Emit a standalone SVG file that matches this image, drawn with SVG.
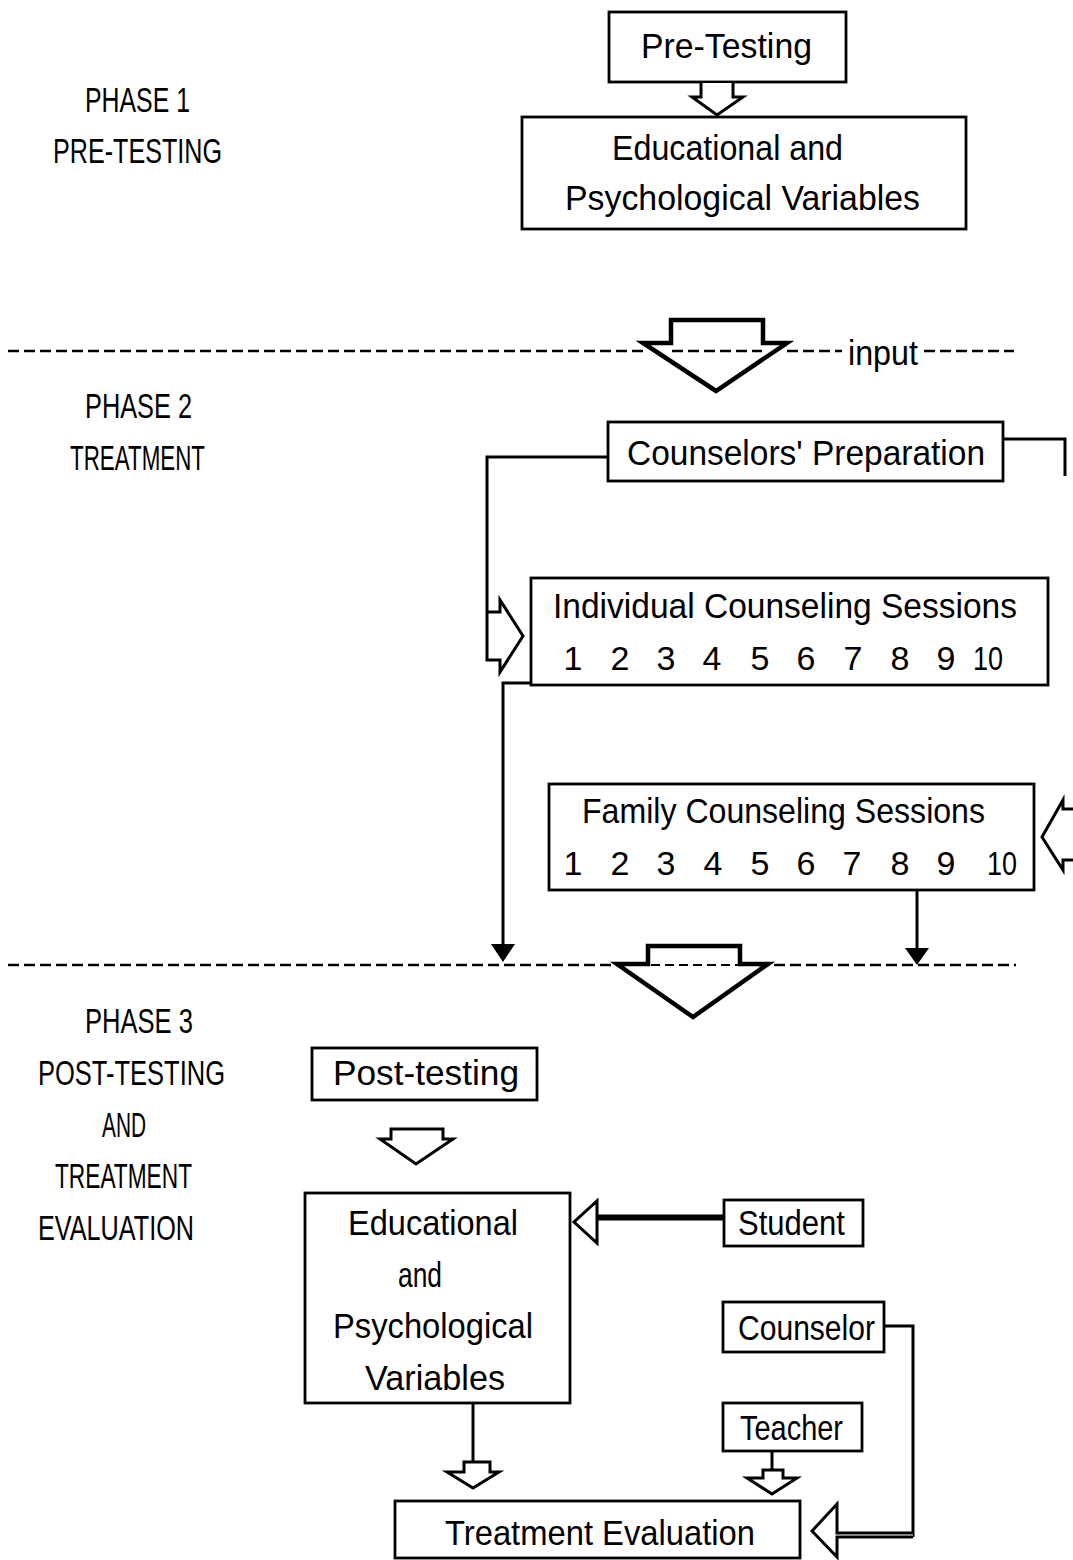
<svg xmlns="http://www.w3.org/2000/svg" width="1073" height="1560" viewBox="0 0 1073 1560">
<style>
  text { font-family: "Liberation Sans", Arial, sans-serif; font-size: 35px; fill: #000; }
  .box { fill: #fff; stroke: #000; stroke-width: 2.8; }
  .ln { fill: none; stroke: #000; stroke-width: 3; stroke-linejoin: miter; }
  .big { fill: none; stroke: #000; stroke-width: 4.5; stroke-linejoin: miter; }
  .hollow { fill: #fff; stroke: #000; stroke-width: 3; stroke-linejoin: miter; }
  .dash { fill: none; stroke: #000; stroke-width: 2.6; stroke-dasharray: 11 5; }
  .dashthin { fill: none; stroke: #000; stroke-width: 1.8; stroke-dasharray: 9 5; }
  .solid { fill: #000; stroke: none; }
  .num { text-anchor: middle; font-size: 34px; }
</style>

<g id="phase-labels">
  <text x="85" y="112" textLength="105" lengthAdjust="spacingAndGlyphs">PHASE 1</text>
  <text x="53" y="163" textLength="169" lengthAdjust="spacingAndGlyphs">PRE-TESTING</text>
  <text x="85" y="418" textLength="107" lengthAdjust="spacingAndGlyphs">PHASE 2</text>
  <text x="70" y="470" textLength="135" lengthAdjust="spacingAndGlyphs">TREATMENT</text>
  <text x="85" y="1033" textLength="108" lengthAdjust="spacingAndGlyphs">PHASE 3</text>
  <text x="38" y="1085" textLength="187" lengthAdjust="spacingAndGlyphs">POST-TESTING</text>
  <text x="102" y="1137" textLength="44" lengthAdjust="spacingAndGlyphs">AND</text>
  <text x="55" y="1188" textLength="137" lengthAdjust="spacingAndGlyphs">TREATMENT</text>
  <text x="38" y="1240" textLength="156" lengthAdjust="spacingAndGlyphs">EVALUATION</text>
</g>

<g id="phase-dividers">
  <line class="dash" x1="8" y1="351" x2="645" y2="351"/>
  <line class="dash" x1="672" y1="351" x2="762" y2="351"/>
  <line class="dash" x1="787" y1="351" x2="842" y2="351"/>
  <text x="848" y="365" textLength="70" lengthAdjust="spacingAndGlyphs">input</text>
  <line class="dash" x1="924" y1="351" x2="1014" y2="351"/>
  <line class="dash" x1="8" y1="965" x2="618" y2="965"/>
  <line class="dashthin" x1="651" y1="965" x2="738" y2="965"/>
  <line class="dash" x1="758" y1="965" x2="1016" y2="965"/>
</g>

<g id="pre-testing">
  <rect class="box" x="609" y="12" width="237" height="70"/>
  <text x="641" y="58" textLength="171" lengthAdjust="spacingAndGlyphs">Pre-Testing</text>
</g>

<g id="edu-psych-1">
  <rect class="box" x="522" y="117" width="444" height="112"/>
  <text x="612" y="160" textLength="231" lengthAdjust="spacingAndGlyphs">Educational and</text>
  <text x="565" y="210" textLength="355" lengthAdjust="spacingAndGlyphs">Psychological Variables</text>
</g>

<g id="counselors-preparation">
  <rect class="box" x="608" y="422" width="395" height="59"/>
  <text x="627" y="465" textLength="358" lengthAdjust="spacingAndGlyphs">Counselors' Preparation</text>
</g>

<g id="individual-sessions">
  <rect class="box" x="531" y="578" width="517" height="107"/>
  <text x="553" y="618" textLength="464" lengthAdjust="spacingAndGlyphs">Individual Counseling Sessions</text>
  <text class="num" x="573" y="670">1</text>
  <text class="num" x="620" y="670">2</text>
  <text class="num" x="666" y="670">3</text>
  <text class="num" x="712" y="670">4</text>
  <text class="num" x="760" y="670">5</text>
  <text class="num" x="806" y="670">6</text>
  <text class="num" x="853" y="670">7</text>
  <text class="num" x="900" y="670">8</text>
  <text class="num" x="946" y="670">9</text>
  <text class="num" x="988" y="670" textLength="30" lengthAdjust="spacingAndGlyphs">10</text>
</g>

<g id="family-sessions">
  <rect class="box" x="549" y="784" width="485" height="106"/>
  <text x="582" y="823" textLength="403" lengthAdjust="spacingAndGlyphs">Family Counseling Sessions</text>
  <text class="num" x="573" y="875">1</text>
  <text class="num" x="620" y="875">2</text>
  <text class="num" x="666" y="875">3</text>
  <text class="num" x="713" y="875">4</text>
  <text class="num" x="760" y="875">5</text>
  <text class="num" x="806" y="875">6</text>
  <text class="num" x="852" y="875">7</text>
  <text class="num" x="900" y="875">8</text>
  <text class="num" x="946" y="875">9</text>
  <text class="num" x="1002" y="875" textLength="30" lengthAdjust="spacingAndGlyphs">10</text>
</g>

<g id="post-testing">
  <rect class="box" x="312" y="1048" width="225" height="52"/>
  <text x="333" y="1085" textLength="186" lengthAdjust="spacingAndGlyphs">Post-testing</text>
</g>

<g id="edu-psych-2">
  <rect class="box" x="305" y="1193" width="265" height="210"/>
  <text x="348" y="1235" textLength="170" lengthAdjust="spacingAndGlyphs">Educational</text>
  <text x="398" y="1287" textLength="44" lengthAdjust="spacingAndGlyphs">and</text>
  <text x="333" y="1338" textLength="200" lengthAdjust="spacingAndGlyphs">Psychological</text>
  <text x="365" y="1390" textLength="140" lengthAdjust="spacingAndGlyphs">Variables</text>
</g>

<g id="student">
  <rect class="box" x="724" y="1200" width="139" height="46"/>
  <text x="738" y="1235" textLength="107" lengthAdjust="spacingAndGlyphs">Student</text>
</g>

<g id="counselor">
  <rect class="box" x="723" y="1302" width="161" height="50"/>
  <text x="738" y="1340" textLength="137" lengthAdjust="spacingAndGlyphs">Counselor</text>
</g>

<g id="teacher">
  <rect class="box" x="723" y="1403" width="139" height="48"/>
  <text x="740" y="1440" textLength="103" lengthAdjust="spacingAndGlyphs">Teacher</text>
</g>

<g id="treatment-evaluation">
  <rect class="box" x="395" y="1501" width="405" height="57"/>
  <text x="445" y="1545" textLength="310" lengthAdjust="spacingAndGlyphs">Treatment Evaluation</text>
</g>

<g id="connectors">
  <path class="hollow" d="M701,83 L701,97 L692,97 L717,115 L743,97 L733,97 L733,83"/>
  <path class="big" d="M643,343 L671,343 L671,320 L763,320 L763,343 L787,343 L716,391 Z"/>
  <path class="ln" d="M1003,439 L1065,439 L1065,476"/>
  <path class="ln" d="M608,457 L487,457 L487,660 L500,660 L500,672 L523,636 L500,600 L500,612 L487,612"/>
  <path class="ln" d="M1073,809 L1063,809 L1063,800 L1042,837 L1063,870 L1063,860 L1073,860"/>
  <path class="ln" d="M531,683 L503,683 L503,947"/>
  <path class="solid" d="M491,944 L515,944 L503,962 Z"/>
  <path class="ln" d="M917,890 L917,950"/>
  <path class="solid" d="M905,948 L929,948 L917,965 Z"/>
  <path class="big" d="M617,964 L648,964 L648,946 L740,946 L740,964 L768,964 L693,1017 Z"/>
  <path class="hollow" d="M391,1129 L391,1139 L380,1139 L416,1164 L453,1139 L443,1139 L443,1129 Z"/>
  <path class="hollow" d="M724,1216 L597,1216 L597,1201 L574,1222 L597,1243 L597,1219 L724,1219"/>
  <path class="ln" d="M473,1403 L473,1462"/>
  <path class="hollow" d="M464,1462 L490,1462 L490,1472 L499,1472 L473,1488 L447,1472 L464,1472 Z"/>
  <path class="ln" d="M772,1451 L772,1470"/>
  <path class="hollow" d="M763,1470 L783,1470 L783,1478 L797,1478 L772,1494 L747,1478 L763,1478 Z"/>
  <path class="ln" d="M884,1326 L913,1326 L913,1537"/>
  <path class="hollow" d="M913,1533 L837,1533 L837,1504 L812,1531 L837,1557 L837,1537 L913,1537"/>
</g>
</svg>
